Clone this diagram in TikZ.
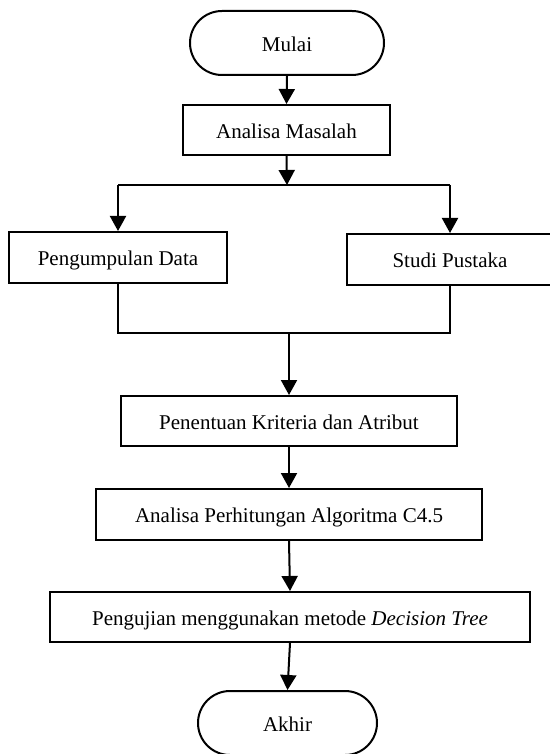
\documentclass[tikz,border=0pt]{standalone}
\usepackage{fontspec}
\setmainfont{Liberation Serif}
\usetikzlibrary{arrows.meta}
\begin{document}
\begin{tikzpicture}[x=0.5pt,y=-0.5pt,
  every node/.style={font=\fontsize{10.5pt}{12pt}\selectfont,text height=2ex,text depth=0.2ex},
  procbox/.style={draw,line width=1pt,rectangle,inner sep=0pt},
  terminal/.style={draw,line width=1pt,rectangle,rounded corners=16pt,inner sep=0pt,
    minimum width=#1,minimum height=32pt},
  link/.style={line width=1pt},
  arr/.style={line width=1pt,-{Triangle[width=8pt,length=7.5pt]}}]
  \useasboundingbox (0,0) rectangle (550,754);
  \clip (0,0) rectangle (550,754);

  % start / end terminals
  \node[terminal=97pt] (mulai) at (287,43) {Mulai};
  \node[terminal=89.5pt] (akhir) at (287.5,723) {Akhir};

  % process steps
  \node[procbox,minimum width=103.5pt,minimum height=25pt] (masalah) at (286.5,130) {Analisa Masalah};
  \node[procbox,minimum width=109pt,minimum height=25.5pt] (data) at (118,257.5) {Pengumpulan Data};
  \node[procbox,minimum width=103pt,minimum height=25.5pt] (pustaka) at (450,259.5) {Studi Pustaka};
  \node[procbox,minimum width=168pt,minimum height=25pt] (kriteria) at (289,421) {Penentuan Kriteria dan Atribut};
  \node[procbox,minimum width=193pt,minimum height=25.5pt] (hitung) at (289,514.5) {Analisa Perhitungan Algoritma C4.5};
  \node[procbox,minimum width=240pt,minimum height=25pt] (uji) at (290,617) {Pengujian menggunakan metode \textit{Decision Tree}};

  % branching and joining points
  \coordinate (split) at (287,185);
  \coordinate (join) at (289,333);

  % connectors
  \draw[arr] (mulai.south) -- (masalah.north);
  \draw[arr] (masalah.south) -- (split);
  \draw[link] (data.north |- split) -- (pustaka.north |- split);
  \draw[arr] (data.north |- split) -- (data.north);
  \draw[arr] (pustaka.north |- split) -- (pustaka.north);
  \draw[link] (data.south) |- (join) -| (pustaka.south);
  \draw[arr] (join) -- (kriteria.north);
  \draw[arr] (kriteria.south) -- (hitung.north);
  \draw[arr] (hitung.south) -- (uji.north);
  \draw[arr] (uji.south) -- (akhir.north);
\end{tikzpicture}
\end{document}
